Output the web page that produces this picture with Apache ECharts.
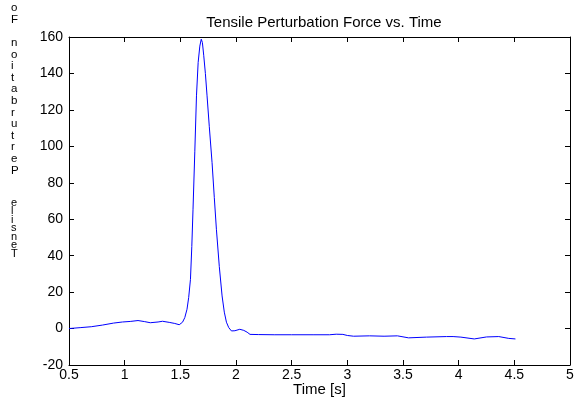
<!DOCTYPE html>
<html>
<head>
<meta charset="utf-8">
<script src="https://cdn.jsdelivr.net/npm/echarts@6/dist/echarts.min.js"></script>
<style>
  html, body { margin: 0; padding: 0; background: #fff; }
  #main { width: 579px; height: 402px; }
</style>
</head>
<body>
<div id="main"></div>
<script>
// time [s] and force
const times = [
  0.5, 0.6, 0.7, 0.8, 0.9, 0.98, 1.05, 1.12, 1.18, 1.23, 1.3, 1.34, 1.4, 1.45, 1.49,
  1.52, 1.54, 1.56, 1.575, 1.591, 1.603, 1.614, 1.63, 1.645, 1.66, 1.675, 1.688, 1.698,
  1.71, 1.725, 1.74, 1.76, 1.785, 1.805, 1.824, 1.85, 1.875, 1.895, 1.914, 1.935, 1.959,
  1.99, 2.034, 2.07, 2.1, 2.126, 2.2, 2.343, 2.5, 2.7, 2.84, 2.9, 2.96, 3.0, 3.056, 3.2,
  3.33, 3.45, 3.55, 3.71, 3.89, 3.95, 4.02, 4.14, 4.25, 4.36, 4.45, 4.51
];
const force = [
  0, 0.5, 1.0, 1.9, 3.0, 3.6, 3.9, 4.4, 3.8, 3.2, 3.6, 4.0, 3.4, 2.8, 2.1,
  3.5, 6, 10.6, 17, 27, 45, 65.5, 97, 127.7, 146, 155, 158.8, 157,
  150, 140, 127.7, 111, 91, 72, 54.5, 34, 17.9, 9, 3.5, 0.5, -1.3,
  -1.2, -0.4, -1.0, -2.0, -3.2, -3.3, -3.4, -3.4, -3.4, -3.4, -3.1, -3.2, -3.8, -4.2, -4.0,
  -4.2, -4.0, -5.1, -4.7, -4.4, -4.4, -4.7, -5.7, -4.6, -4.4, -5.4, -5.7
];
const xTicks = [0.5, 5, 0.5];   // min, max, step
const yTicks = [-20, 160, 20];
const titleText = 'Tensile Perturbation Force vs. Time';
const xName = 'Time [s]';
// y label words, bottom word first (drawn as upright stacked letters)
const yWords = ['Tensile', 'Perturbation Fo'];

var chartDom = document.getElementById('main');
var myChart = echarts.init(chartDom);
var option;

const font = '"Liberation Sans", Arial, Helvetica, sans-serif';
const tickStyle = { show: true, inside: true, length: 5, lineStyle: { color: '#000', width: 1 } };
const lineStyle = { show: true, onZero: false, lineStyle: { color: '#000', width: 1 } };

function stack(s) {
  return s.split('').reverse().join('\n');
}

option = {
  animation: false,
  backgroundColor: '#fff',
  title: {
    text: titleText,
    left: 319,
    textAlign: 'center',
    top: 10,
    textStyle: { fontFamily: font, fontSize: 15, fontWeight: 'normal', color: '#000' }
  },
  grid: {
    left: 69,
    right: 9,
    top: 37,
    bottom: 37,
    containLabel: false,
    outerBoundsMode: 'none'
  },
  graphic: [{
    // "Tensile" sits tighter than the upper word in the original
    type: 'text',
    left: 11,
    top: 197,
    style: {
      text: stack(yWords[0]),
      font: '11px ' + font,
      lineHeight: 8.5,
      fill: '#000',
      align: 'center'
    }
  }, {
    type: 'text',
    left: 11,
    top: 2,
    style: {
      text: stack(yWords[1]),
      font: '11.5px ' + font,
      lineHeight: 11.6,
      fill: '#000',
      align: 'center'
    }
  }],
  xAxis: [{
    type: 'value',
    min: xTicks[0],
    max: xTicks[1],
    interval: xTicks[2],
    name: xName,
    nameLocation: 'middle',
    nameGap: 17,
    nameMoveOverlap: false,
    nameTextStyle: { fontFamily: font, fontSize: 15, color: '#000' },
    axisLine: lineStyle,
    axisTick: tickStyle,
    splitLine: { show: false },
    axisLabel: { fontFamily: font, fontSize: 14, color: '#000', margin: 3 }
  }, {
    type: 'value',
    position: 'top',
    min: xTicks[0],
    max: xTicks[1],
    interval: xTicks[2],
    axisLine: lineStyle,
    axisTick: tickStyle,
    splitLine: { show: false },
    axisLabel: { show: false }
  }],
  yAxis: [{
    type: 'value',
    min: yTicks[0],
    max: yTicks[1],
    interval: yTicks[2],
    axisLine: lineStyle,
    axisTick: tickStyle,
    splitLine: { show: false },
    axisLabel: { fontFamily: font, fontSize: 14, color: '#000', margin: 6 }
  }, {
    type: 'value',
    position: 'right',
    min: yTicks[0],
    max: yTicks[1],
    interval: yTicks[2],
    axisLine: lineStyle,
    axisTick: tickStyle,
    splitLine: { show: false },
    axisLabel: { show: false }
  }],
  series: [{
    name: 'Force',
    type: 'line',
    data: times.map(function (t, i) { return [t, force[i]]; }),
    showSymbol: false,
    smooth: false,
    color: '#0000ff',
    lineStyle: { width: 1, color: '#0000ff' }
  }]
};

option && myChart.setOption(option);
</script>
</body>
</html>
